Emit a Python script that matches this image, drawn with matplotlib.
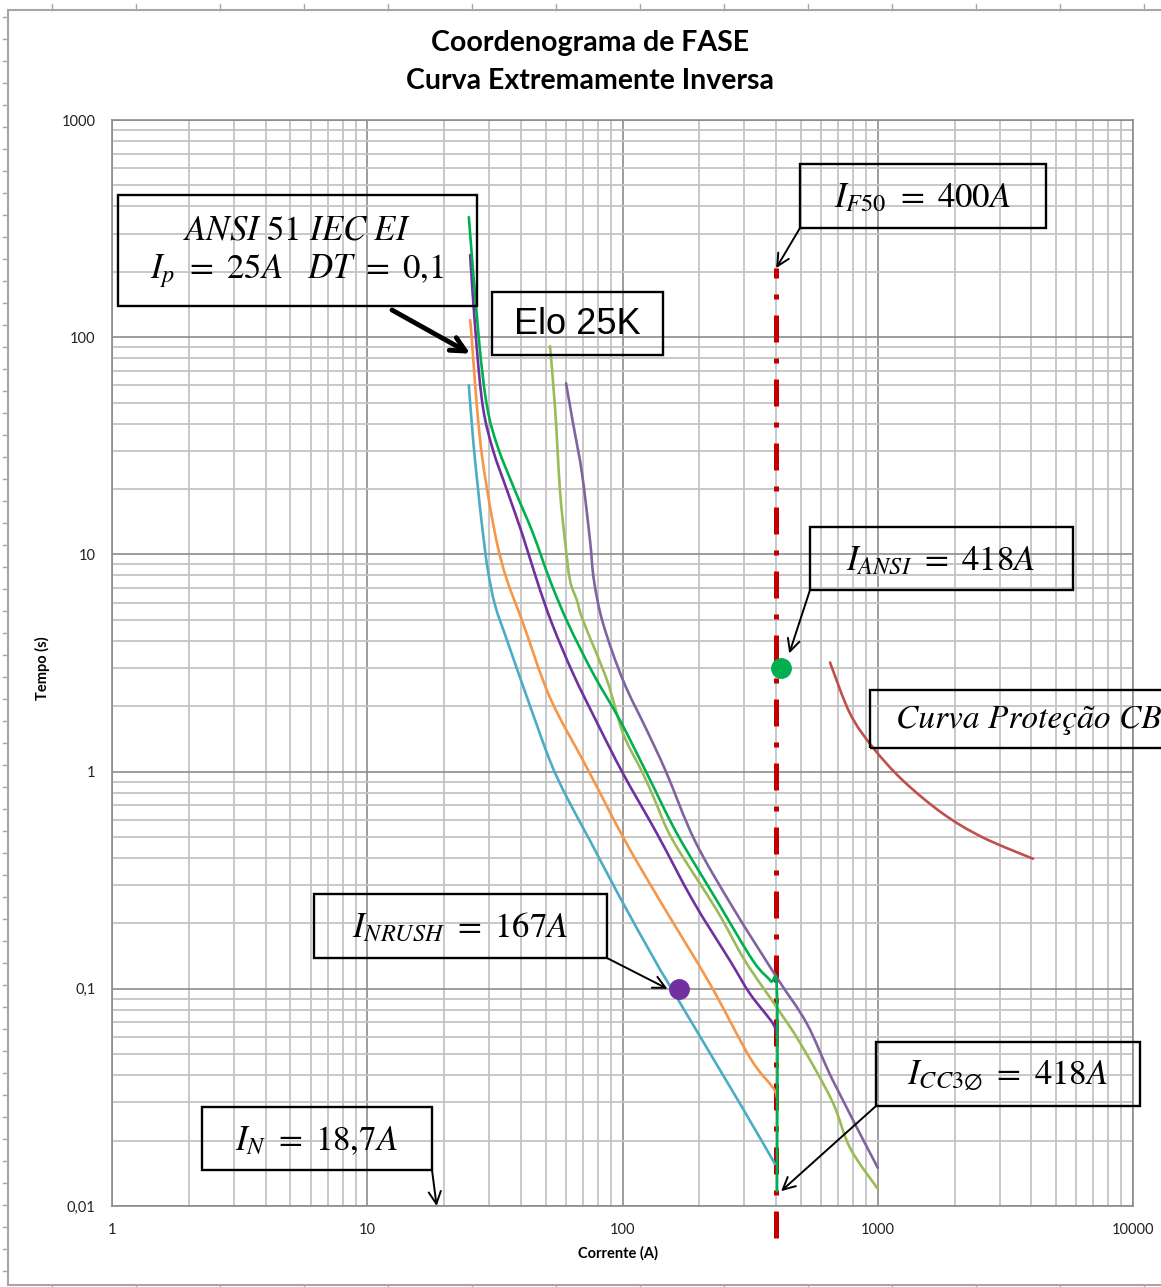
import matplotlib
matplotlib.use('Agg')
import matplotlib.pyplot as plt
import numpy as np
from matplotlib.patches import Rectangle, PathPatch
from matplotlib.path import Path
from matplotlib.lines import Line2D
from matplotlib.ticker import LogLocator, NullFormatter

plt.rcParams['mathtext.fontset'] = 'stix'

# Curvas de tempo x corrente (corrente em A, tempo em s)
rele_a_i = [25.0, 26.0, 27.2, 28.4, 29.7, 31.7, 35.3, 42.3, 52.0, 60.6, 74.6, 97.8, 134, 155, 289, 396]
rele_a_t = [60.1, 33.5, 19.7, 12.5, 8.43, 5.82, 4.02, 2.19, 1.12, 0.759, 0.481, 0.263, 0.135, 0.101, 0.0295, 0.0156]

rele_b_i = [25.3, 25.7, 26.9, 28.2, 30.3, 32.5, 35.3, 40.8, 52.0, 72.6, 102.3, 140.3, 220, 316, 389, 403]
rele_b_t = [120, 96.9, 47.6, 28.0, 16.5, 10.8, 7.59, 4.81, 2.19, 1.04, 0.481, 0.254, 0.1054, 0.0481, 0.035, 0.0315]

rele_c_i = [25.3, 26.7, 28.4, 31.1, 35.3, 40.4, 46.2, 52.9, 64.0, 78.7, 100.5, 136.5, 188.9, 263.8, 316, 389, 403]
rele_c_t = [239, 96.9, 47.6, 30.2, 19.7, 12.5, 7.59, 4.81, 2.83, 1.72, 0.979, 0.518, 0.254, 0.1346, 0.0948, 0.069, 0.0594]

rele_d_i = [25.0, 27.4, 29.5, 32.5, 37.9, 44.6, 52.0, 61.2, 76.7, 97.8, 124.7, 163.5, 234.6, 324.6, 380, 403, 403]
rele_d_t = [357, 96.9, 47.6, 31.1, 19.7, 12.5, 7.59, 4.81, 2.83, 1.72, 0.979, 0.518, 0.254, 0.1346, 0.1088, 0.0948, 0.0117]

# Elo 25K - curvas de fusao minima e de interrupcao maxima
elo_min_i = [52.0, 54.4, 56.9, 59.5, 62.3, 66.3, 70.0, 87.0, 100.5, 120.3, 134.1, 157.7, 234.6, 302, 403, 496, 662, 779, 1000]
elo_min_t = [90.9, 47.6, 19.7, 11.6, 7.59, 6.14, 4.97, 2.63, 1.50, 0.979, 0.735, 0.481, 0.229, 0.1346, 0.0818, 0.0564, 0.0305, 0.0185, 0.012]

elo_max_i = [60.1, 64.0, 69.4, 74.6, 77.3, 83.9, 100.5, 124.7, 148, 192, 271, 403, 528, 668, 1000]
elo_max_t = [61.4, 40.2, 23.6, 11.6, 7.59, 4.81, 2.63, 1.545, 1.0, 0.481, 0.236, 0.1124, 0.069, 0.0377, 0.015]

# Curva de protecao do disjuntor (CB)
cb_i = [650, 779, 958, 1256, 1801, 2585, 4057]
cb_t = [3.18, 1.85, 1.29, 0.909, 0.640, 0.497, 0.397]

# Ajuste instantaneo (50) e pontos notaveis
f50_i = [400, 400]
f50_t = [0.0071, 208]
inrush_i, inrush_t = 167, 0.1
ansi_i, ansi_t = 418, 3.0
icc_i, icc_t = 418, 0.0117
in_i, in_t = 18.7, 0.01

valores_x = [1, 10, 100, 1000, 10000]
rotulos_x = ['1', '10', '100', '1000', '10000']
valores_y = [0.01, 0.1, 1, 10, 100, 1000]
rotulos_y = ['0,01', '0,1', '1', '10', '100', '1000']

W, H = 1161, 1287
fig = plt.figure(figsize=(W / 100, H / 100), dpi=100)


def fp(x, y):
    # pixel da figura -> fracao da figura
    return x / W, 1 - y / H


# moldura da planilha
borda = '#a6a6a6'
fig.add_artist(Line2D([8 / W, 8 / W], [1 - 10 / H, 1 - 1285 / H], color=borda, lw=1.5))
fig.add_artist(Line2D([8 / W, 1], [1 - 10 / H, 1 - 10 / H], color=borda, lw=1.5))
fig.add_artist(Line2D([8 / W, 1], [1 - 1285 / H, 1 - 1285 / H], color=borda, lw=1.5))
for yy in np.arange(17, 1285, 22):
    fig.add_artist(Line2D([3 / W, 8 / W], [1 - yy / H] * 2, color=borda, lw=1))
for xx in np.arange(52, W, 84):
    fig.add_artist(Line2D([xx / W] * 2, [1 - 4 / H, 1 - 10 / H], color=borda, lw=1))
    fig.add_artist(Line2D([xx / W] * 2, [1 - 1285 / H, 1 - 1291 / H], color=borda, lw=1))

ax = fig.add_axes([112 / W, 1 - 1206 / H, 1021 / W, 1086 / H])
ax.set_xscale('log')
ax.set_yscale('log')
ax.set_xlim(1, 10000)
ax.set_ylim(0.01, 1000)
ax.set_axisbelow(True)

ax.xaxis.set_minor_locator(LogLocator(base=10, subs=np.arange(2, 10), numticks=50))
ax.yaxis.set_minor_locator(LogLocator(base=10, subs=np.arange(2, 10), numticks=50))
ax.xaxis.set_minor_formatter(NullFormatter())
ax.yaxis.set_minor_formatter(NullFormatter())
ax.grid(True, which='minor', color='#c4c4c4', lw=1.3)
ax.grid(True, which='major', color='#8c8c8c', lw=1.2)
for s in ax.spines.values():
    s.set_color('#8c8c8c')
    s.set_linewidth(1.2)

ax.set_xticks(valores_x)
ax.set_xticklabels(rotulos_x)
ax.set_yticks(valores_y)
ax.set_yticklabels(rotulos_y)
ax.tick_params(which='both', length=0)
ax.tick_params(axis='x', pad=12, labelsize=10.5, labelcolor='#222222')
ax.tick_params(axis='y', pad=12, labelsize=10.5, labelcolor='#222222')
for lbl in ax.get_xticklabels() + ax.get_yticklabels():
    lbl.set_fontfamily('Lato')

# linha do ajuste instantaneo
ax.plot(f50_i, f50_t, color='#C00000', lw=3.6, ls=(0, (5.4, 3.2, 1, 3.2)),
        dash_capstyle='butt', clip_on=False, zorder=2)


def curva(xs, ys, cor, lw=1.9, clip=True):
    # linha suavizada (bezier pelos pontos, em escala log), como no Excel
    p = np.column_stack([np.log10(xs), np.log10(ys)])
    n = len(p)
    verts = [p[0]]
    codes = [Path.MOVETO]
    for k in range(n - 1):
        a = p[max(k - 1, 0)]
        d = p[min(k + 2, n - 1)]
        verts += [p[k] + (p[k + 1] - a) / 6, p[k + 1] - (d - p[k]) / 6, p[k + 1]]
        codes += [Path.CURVE4] * 3
    caminho = Path(10 ** np.array(verts), codes)
    ax.add_patch(PathPatch(caminho, fill=False, ec=cor, lw=lw, capstyle='round',
                           joinstyle='round', zorder=3, clip_on=clip))


curva(rele_a_i, rele_a_t, '#4BACC6')
curva(rele_b_i, rele_b_t, '#F79646')
curva(rele_c_i, rele_c_t, '#7030A0')
curva(elo_min_i, elo_min_t, '#9BBB59')
curva(elo_max_i, elo_max_t, '#8064A2')
curva(rele_d_i, rele_d_t, '#00B050', clip=False)
curva(cb_i, cb_t, '#C0504D')

ax.plot([inrush_i], [inrush_t], 'o', color='#7030A0', ms=14, zorder=5)
ax.plot([ansi_i], [ansi_t], 'o', color='#00B050', ms=14, zorder=5)

# titulo e eixos
fig.text(*fp(590, 43), 'Coordenograma de FASE', ha='center', va='center',
         fontsize=20.5, fontweight='bold', family='Lato')
fig.text(*fp(590, 81), 'Curva Extremamente Inversa', ha='center', va='center',
         fontsize=20.5, fontweight='bold', family='Lato')
fig.text(*fp(42, 668), 'Tempo (s)', rotation=90, ha='center', va='center',
         fontsize=10.5, fontweight='bold', family='Lato')
fig.text(*fp(618, 1253), 'Corrente (A)', ha='center', va='center',
         fontsize=10.5, fontweight='bold', family='Lato')


def caixa(x0, y0, x1, y1):
    fig.add_artist(Rectangle(fp(x0, y1), (x1 - x0) / W, (y1 - y0) / H,
                             fill=False, ec='black', lw=1.7, zorder=6))


def seta(xy, x, y, lw=1.4, ms=22):
    ax.annotate('', xy=xy, xycoords='data', xytext=fp(x, y), textcoords='figure fraction',
                arrowprops=dict(arrowstyle='->', lw=lw, color='black', shrinkA=0, shrinkB=0,
                                mutation_scale=ms),
                annotation_clip=False, zorder=7)


tam = 25

caixa(118, 195, 477, 306)
fig.text(*fp(297, 229), r'$ANSI\ 51\ IEC\ EI$', ha='center', va='center', fontsize=tam)
fig.text(*fp(297, 271), r'$I_p\ =\ 25A\ \ \ DT\ =\ 0{,}1$', ha='center', va='center', fontsize=tam)
seta((25.3, 84), 392, 310, lw=3.5, ms=26)

caixa(492, 292, 663, 355)
fig.text(*fp(577, 324), 'Elo 25K', ha='center', va='center', fontsize=26,
         family='Liberation Sans')

caixa(800, 164, 1046, 228)
fig.text(*fp(922, 197), r'$I_{F50}\ =\ 400A$', ha='center', va='center', fontsize=tam)
seta((f50_i[1], f50_t[1]), 800, 228)

caixa(810, 527, 1073, 590)
fig.text(*fp(941, 560), r'$I_{ANSI}\ =\ 418A$', ha='center', va='center', fontsize=tam)
seta((450, 3.5), 810, 590)

caixa(870, 690, 1175, 748)
fig.text(*fp(896, 720), 'Curva Proteção CB', ha='left', va='center', fontsize=24,
         family='STIXGeneral', style='italic')

caixa(314, 894, 607, 958)
fig.text(*fp(460, 927), r'$I_{NRUSH}\ =\ 167A$', ha='center', va='center', fontsize=tam)
seta((150, inrush_t), 607, 958)

caixa(876, 1042, 1140, 1106)
fig.text(*fp(1007, 1076), r'$I_{CC3\emptyset}\ =\ 418A$', ha='center', va='center', fontsize=tam)
seta((icc_i, icc_t), 876, 1106)

caixa(202, 1107, 432, 1170)
fig.text(*fp(316, 1140), r'$I_N\ =\ 18{,}7A$', ha='center', va='center', fontsize=tam)
seta((in_i, in_t), 432, 1170)

fig.savefig('out.png', dpi=100)
plt.close(fig)
